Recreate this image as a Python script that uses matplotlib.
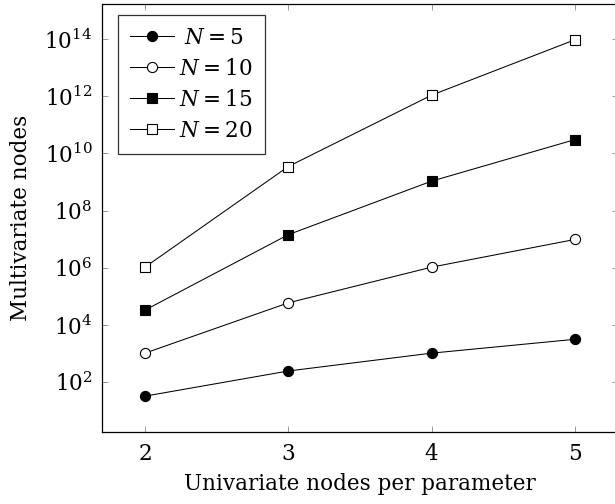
import matplotlib
matplotlib.use("Agg")
import matplotlib.pyplot as plt
from matplotlib.ticker import FixedLocator, FixedFormatter, NullLocator

plt.rcParams['font.family'] = ['DejaVu Serif']
plt.rcParams['mathtext.fontset'] = 'dejavuserif'

x = [2, 3, 4, 5]
n5 = [32, 243, 1024, 3125]
n10 = [1024, 59049, 1048576, 9765625]
n15 = [32768, 14348907, 1073741824, 30517578125]
n20 = [1048576, 3486784401, 1099511627776, 95367431640625]
labels = [r'$\;N = 5\;\ \;$', r'$N = 10\ $', r'$N = 15\ $', r'$N = 20\ $']
ytick_exps = [2, 4, 6, 8, 10, 12, 14]

FS = 15.5

fig = plt.figure(figsize=(6.15, 5.04), dpi=100)
ax = fig.add_axes([102/615, 72/504, 516/615, 428/504])

kw = dict(color='black', linewidth=0.75, markersize=7.3, markeredgewidth=0.8)
ax.plot(x, n5, marker='o', markerfacecolor='black', label=labels[0], **kw)
ax.plot(x, n10, marker='o', markerfacecolor='white', label=labels[1], **kw)
ax.plot(x, n15, marker='s', markerfacecolor='black', label=labels[2], **kw)
ax.plot(x, n20, marker='s', markerfacecolor='white', label=labels[3], **kw)

ax.set_yscale('log')
ax.set_xlim(1.7, 5.3)
ax.set_ylim(10**0.25, 10**15.23)
ax.set_xticks(x)
ax.set_xticklabels([str(v) for v in x])
ax.yaxis.set_major_locator(FixedLocator([10.0**e for e in ytick_exps]))
ax.yaxis.set_major_formatter(FixedFormatter(['$10^{%d}$' % e for e in ytick_exps]))
ax.yaxis.set_minor_locator(NullLocator())
ax.xaxis.set_minor_locator(NullLocator())

ax.tick_params(axis='both', which='major', direction='in', length=4.5, width=0.7,
               color='#999999', top=True, right=True, labelsize=FS)
ax.tick_params(axis='x', pad=8)
ax.tick_params(axis='y', pad=7)
for s in ax.spines.values():
    s.set_linewidth(0.9)

ax.set_xlabel('Univariate nodes per parameter', fontsize=FS, labelpad=6)
ax.set_ylabel('Multivariate nodes', fontsize=FS, labelpad=9)

leg = ax.legend(loc='upper left', bbox_to_anchor=(16/516, 1 - 11/428), fontsize=FS,
                frameon=True, fancybox=False, edgecolor='black', handlelength=2.05,
                handletextpad=0.25, borderpad=0.55, labelspacing=0.42, borderaxespad=0)
leg.get_frame().set_linewidth(0.9)

fig.savefig('out.png', dpi=100)
